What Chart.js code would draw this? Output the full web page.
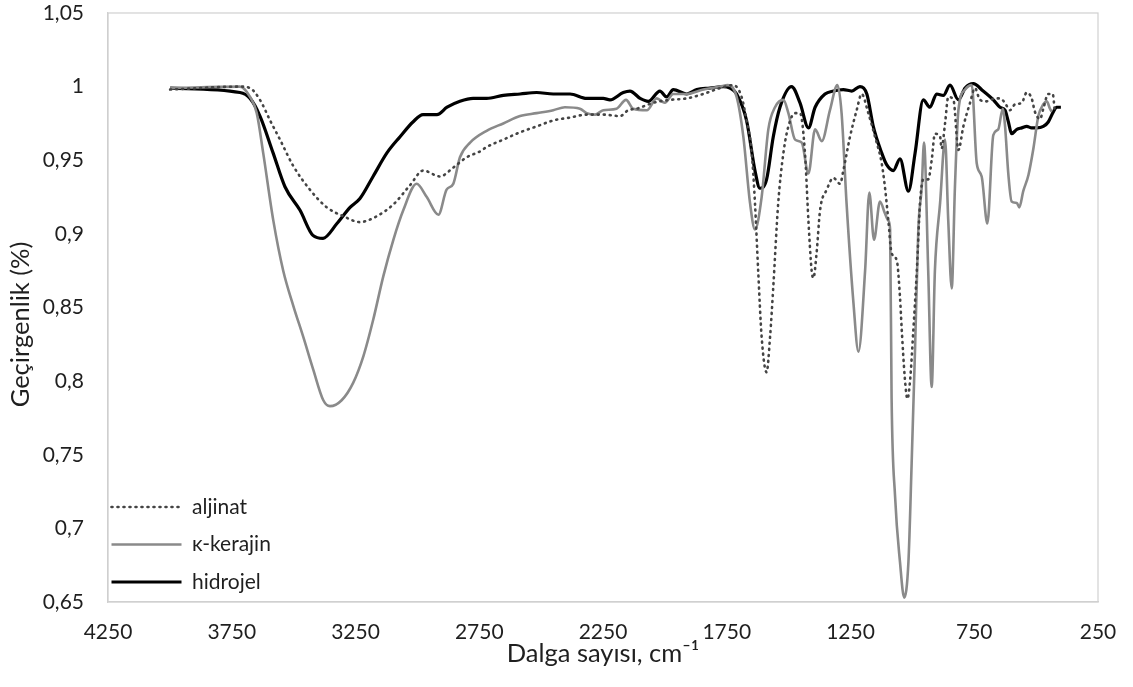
<!DOCTYPE html>
<html>
<head>
<meta charset="utf-8">
<script src="https://cdn.jsdelivr.net/npm/chart.js@4.4.1/dist/chart.umd.min.js"></script>
<style>
  html, body { margin: 0; padding: 0; background: #ffffff; }
  #wrap { position: relative; width: 1133px; height: 687px; }
</style>
</head>
<body>
<div id="wrap"><canvas id="c" width="1133" height="687"></canvas></div>
<script>
// ---- Data (wavenumber cm-1, transmittance) ----
const seriesNames = ['aljinat', 'κ-kerajin', 'hidrojel'];

const aljinatWn = [3999,3717,3676,3636,3595,3555,3501,3434,3366,3299,3232,3164,3097,3030,2976,2909,2855,2801,2747,2720,2653,2585,2518,2451,2383,2316,2249,2181,2148,2114,2047,1979,1912,1845,1777,1724,1690,1670,1649,1636,1623,1609,1589,1575,1562,1542,1521,1501,1474,1454,1434,1420,1407,1400,1387,1373,1346,1319,1292,1279,1252,1225,1205,1178,1151,1124,1111,1097,1084,1063,1050,1043,1030,1020,1009,996,982,969,956,936,922,909,888,882,868,855,834,814,794,767,747,727,700,666,646,626,606,585,558,538,518,505,484,471,451,433,424];
const aljinatT = [0.998,1.000,0.999,0.991,0.977,0.964,0.946,0.930,0.918,0.912,0.908,0.912,0.920,0.933,0.943,0.939,0.945,0.952,0.956,0.959,0.964,0.969,0.973,0.977,0.979,0.981,0.981,0.980,0.984,0.985,0.989,0.991,0.992,0.995,0.999,1.001,0.993,0.977,0.955,0.921,0.875,0.830,0.806,0.830,0.864,0.921,0.955,0.973,0.982,0.982,0.955,0.909,0.875,0.870,0.887,0.916,0.930,0.938,0.934,0.943,0.966,0.984,0.995,0.982,0.966,0.948,0.932,0.909,0.887,0.882,0.857,0.835,0.801,0.788,0.801,0.835,0.875,0.921,0.937,0.937,0.950,0.968,0.966,0.958,0.975,0.993,0.991,0.957,0.973,0.989,0.999,0.991,0.990,0.992,0.992,0.989,0.984,0.988,0.989,0.996,0.992,0.983,0.978,0.985,0.995,0.995,0.982];

const kerajinWn = [3999,3717,3676,3649,3623,3582,3542,3501,3461,3421,3380,3353,3306,3259,3218,3178,3138,3097,3057,3003,2962,2915,2882,2855,2828,2787,2720,2653,2585,2518,2451,2404,2343,2316,2282,2249,2195,2157,2128,2073,2033,2000,1966,1912,1845,1777,1746,1710,1683,1656,1636,1609,1582,1555,1521,1501,1474,1447,1420,1393,1366,1333,1303,1286,1266,1238,1218,1191,1174,1155,1131,1111,1097,1090,1084,1070,1050,1033,1016,1003,989,976,962,953,936,922,909,888,868,855,841,828,814,787,760,740,720,697,673,653,635,626,612,599,578,568,552,531,511,491,471,457,444,437];
const kerajinT = [0.999,1.000,0.993,0.982,0.955,0.909,0.875,0.851,0.830,0.808,0.787,0.783,0.787,0.799,0.817,0.842,0.871,0.896,0.916,0.934,0.925,0.913,0.930,0.934,0.952,0.962,0.970,0.975,0.980,0.982,0.984,0.986,0.985,0.982,0.981,0.984,0.985,0.991,0.985,0.984,0.992,0.989,0.995,0.995,0.998,1.000,1.001,0.993,0.966,0.921,0.903,0.925,0.971,0.986,0.991,0.982,0.964,0.962,0.941,0.971,0.963,0.984,1.001,0.982,0.921,0.853,0.820,0.875,0.928,0.896,0.922,0.914,0.909,0.903,0.789,0.722,0.677,0.653,0.677,0.744,0.823,0.903,0.932,0.962,0.875,0.796,0.875,0.921,0.964,0.909,0.863,0.932,0.984,0.998,1.001,0.948,0.939,0.907,0.967,0.971,0.985,0.974,0.940,0.922,0.921,0.918,0.929,0.940,0.958,0.980,0.988,0.990,0.985,0.983];

const hidrojelWn = [3999,3717,3676,3636,3583,3535,3474,3422,3381,3325,3272,3232,3179,3123,3070,3018,2977,2921,2880,2828,2775,2720,2653,2585,2518,2451,2383,2316,2275,2249,2222,2168,2141,2100,2067,2020,1993,1966,1912,1871,1818,1764,1737,1710,1670,1636,1616,1589,1562,1535,1488,1454,1420,1393,1353,1319,1279,1245,1212,1184,1158,1124,1104,1077,1050,1016,989,956,929,902,875,848,814,787,754,714,673,646,626,612,599,578,558,538,518,498,471,451,430,417,400];
const hidrojelT = [0.999,0.996,0.992,0.980,0.955,0.932,0.916,0.899,0.897,0.907,0.918,0.924,0.939,0.955,0.966,0.976,0.981,0.981,0.986,0.990,0.992,0.992,0.994,0.995,0.996,0.995,0.995,0.992,0.992,0.992,0.991,0.996,0.997,0.992,0.990,0.997,0.993,0.998,0.995,0.998,0.999,1.000,0.999,0.995,0.977,0.943,0.931,0.937,0.966,0.986,1.000,0.989,0.972,0.986,0.995,0.997,0.998,0.997,1.000,0.995,0.973,0.955,0.947,0.943,0.951,0.929,0.955,0.991,0.986,0.995,0.994,1.001,0.991,0.999,1.002,0.997,0.991,0.986,0.984,0.976,0.968,0.971,0.972,0.973,0.972,0.972,0.973,0.976,0.983,0.986,0.986];

// ---- Axis tick labels ----
const xTickValues = [4250, 3750, 3250, 2750, 2250, 1750, 1250, 750, 250];
const yTickLabels = ['0,65', '0,7', '0,75', '0,8', '0,85', '0,9', '0,95', '1', '1,05'];

const xTitle = 'Dalga sayısı, cm⁻¹';
const yTitle = 'Geçirgenlik (%)';

function toPoints(xs, ys) { return xs.map((x, i) => ({ x: x, y: ys[i] })); }

const FONT = 'Lato, "Open Sans", sans-serif';
const TEXT = '#1f1f1f';

const plotBorder = {
  id: 'plotBorder',
  beforeDatasetsDraw(chart) {
    const a = chart.chartArea, ctx = chart.ctx;
    ctx.save();
    ctx.strokeStyle = '#d0d0d0';
    ctx.lineWidth = 1.2;
    ctx.strokeRect(a.left, a.top, a.right - a.left, a.bottom - a.top);
    ctx.restore();
  }
};

// place the legend at the lower-left inside the plot, and nudge the y title
const layoutTweaks = {
  id: 'layoutTweaks',
  afterLayout(chart) {
    const lg = chart.legend;
    if (lg) {
      lg.left = chart.chartArea.left - 13;
      lg.top = chart.chartArea.top;
      lg.bottom = chart.chartArea.bottom + 7;
    }
    const s = chart.scales.y;
    if (s && !s._titleShifted) {
      const orig = s.drawTitle.bind(s);
      s.drawTitle = function () {
        const ctx = this.ctx;
        ctx.save();
        ctx.translate(0, 17);
        orig();
        ctx.restore();
      };
      s._titleShifted = true;
    }
  }
};

new Chart(document.getElementById('c'), {
  type: 'line',
  data: {
    datasets: [
      {
        label: seriesNames[0],
        data: toPoints(aljinatWn, aljinatT),
        borderColor: '#444444',
        borderWidth: 2.6,
        borderDash: [1, 5],
        borderCapStyle: 'round',
        pointRadius: 0,
        tension: 0.4,
        cubicInterpolationMode: 'monotone',
        fill: false
      },
      {
        label: seriesNames[1],
        data: toPoints(kerajinWn, kerajinT),
        borderColor: '#8a8a8a',
        borderWidth: 2.6,
        pointRadius: 0,
        tension: 0.4,
        cubicInterpolationMode: 'monotone',
        fill: false
      },
      {
        label: seriesNames[2],
        data: toPoints(hidrojelWn, hidrojelT),
        borderColor: '#000000',
        borderWidth: 3.2,
        pointRadius: 0,
        tension: 0.4,
        cubicInterpolationMode: 'monotone',
        fill: false
      }
    ]
  },
  options: {
    responsive: false,
    animation: false,
    devicePixelRatio: 1,
    layout: { autoPadding: false, padding: { left: 0, right: 35, top: 13, bottom: 0 } },
    scales: {
      x: {
        type: 'linear',
        reverse: true,
        min: 250,
        max: 4250,
        afterBuildTicks(axis) { axis.ticks = xTickValues.map(v => ({ value: v })); },
        afterFit(axis) { axis.height = 85; axis.paddingLeft = 0; axis.paddingRight = 0; },
        grid: { display: false, drawTicks: false },
        border: { display: true, color: '#d0d0d0', width: 1.2 },
        ticks: {
          color: TEXT,
          font: { family: FONT, size: 21 },
          padding: 18,
          maxRotation: 0,
          autoSkip: false,
          callback: (v) => String(v)
        },
        title: {
          display: true,
          text: xTitle,
          color: TEXT,
          font: { family: FONT, size: 25.5 },
          padding: { top: 0, bottom: 18 }
        }
      },
      y: {
        type: 'linear',
        min: 0.65,
        max: 1.05,
        afterBuildTicks(axis) { axis.ticks = yTickLabels.map((t, i) => ({ value: 0.65 + i * 0.05 })); },
        afterFit(axis) { axis.width = 108; axis.paddingTop = 0; axis.paddingBottom = 0; },
        grid: { display: false, drawTicks: false },
        border: { display: true, color: '#d0d0d0', width: 1.2 },
        ticks: {
          color: TEXT,
          font: { family: FONT, size: 21 },
          padding: 24,
          autoSkip: false,
          callback: (v) => yTickLabels[Math.round((v - 0.65) / 0.05)]
        },
        title: {
          display: true,
          text: yTitle,
          color: TEXT,
          font: { family: FONT, size: 25.5 },
          padding: { top: 5, bottom: 0 }
        }
      }
    },
    plugins: {
      legend: {
        display: true,
        position: 'chartArea',
        fullSize: false,
        align: 'end',
        labels: {
          usePointStyle: true,
          pointStyle: 'line',
          pointStyleWidth: 70,
          boxHeight: 21,
          padding: 16.5,
          color: TEXT,
          font: { family: FONT, size: 21 },
          generateLabels(chart) {
            return chart.data.datasets.map((ds, i) => ({
              text: ds.label,
              datasetIndex: i,
              hidden: false,
              fillStyle: ds.borderColor,
              strokeStyle: ds.borderColor,
              lineWidth: ds.borderWidth,
              lineDash: ds.borderDash || [],
              lineCap: ds.borderCapStyle || 'butt',
              pointStyle: 'line',
              fontColor: TEXT
            }));
          }
        }
      },
      tooltip: { enabled: false }
    }
  },
  plugins: [plotBorder, layoutTweaks]
});
</script>
</body>
</html>
